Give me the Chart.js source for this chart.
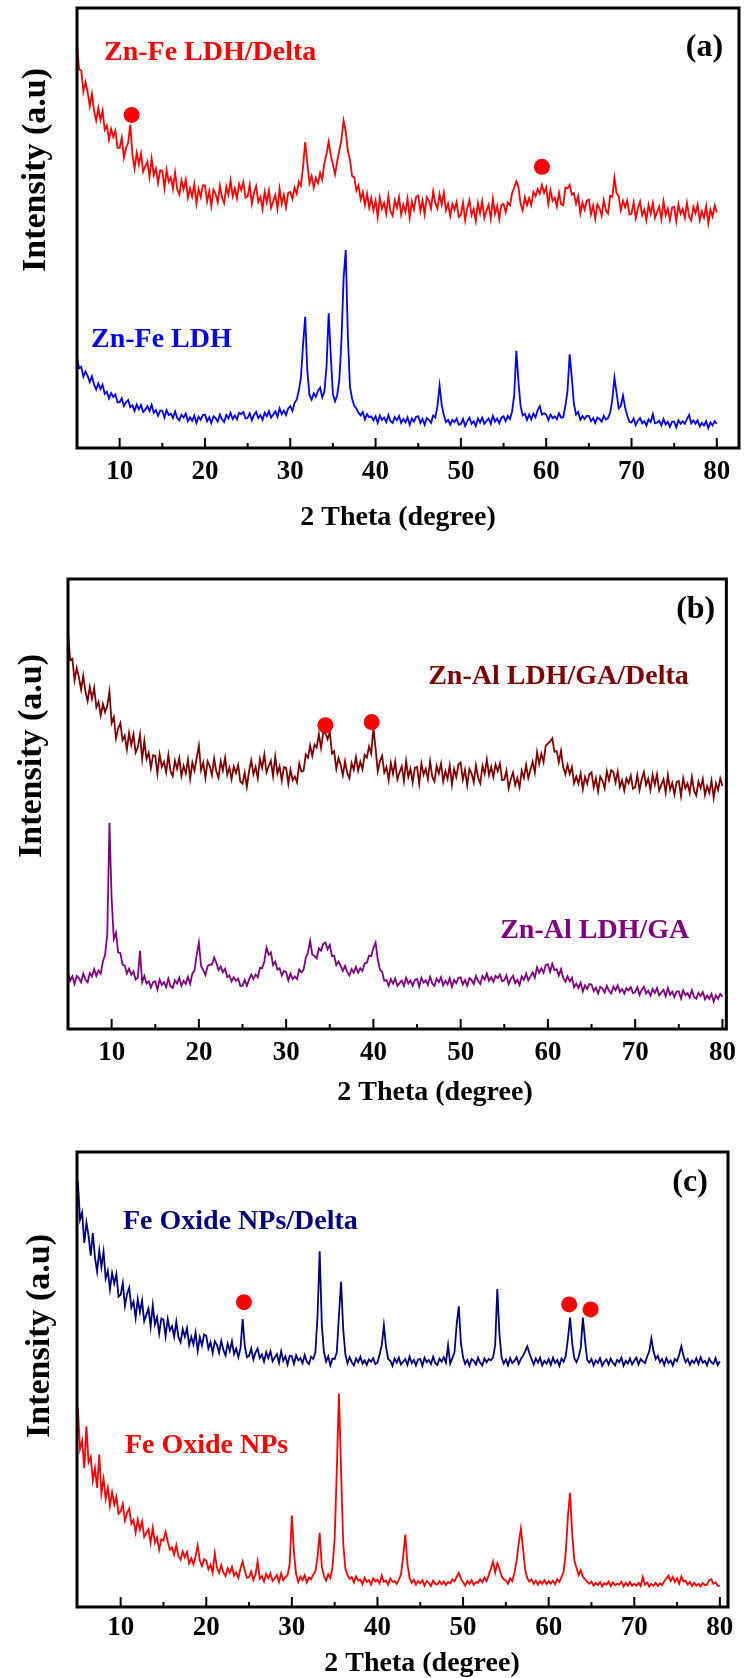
<!DOCTYPE html>
<html>
<head>
<meta charset="utf-8">
<title>XRD patterns</title>
<script src="https://cdn.jsdelivr.net/npm/chart.js"></script>
<style>
  html, body { margin: 0; padding: 0; background: #fff; overflow: hidden; }
  canvas { position: absolute; left: 0; }
</style>
</head>
<body>
<canvas id="panelA" width="747" height="532" style="top:0px"></canvas>
<canvas id="panelB" width="747" height="575" style="top:532px"></canvas>
<canvas id="panelC" width="747" height="571" style="top:1107px"></canvas>
<script>
// 2 theta grid shared by every pattern: 5 to 80 degrees, 0.25 degree step
const twoTheta = Array.from({ length: 301 }, (_, i) => 5 + i * 0.25);
const tickDegrees = [10, 20, 30, 40, 50, 60, 70, 80];

// (a) Zn-Fe LDH
const znFeDelta = [
  922, 860, 858, 810, 832, 809, 777, 805, 767, 744, 773, 745, 767, 723, 733, 701, 725, 707, 721, 682,
  682, 705, 660, 682, 694, 735, 666, 635, 671, 644, 669, 628, 640, 651, 616, 658, 620, 635, 602, 631,
  630, 590, 632, 605, 615, 589, 626, 588, 576, 608, 588, 610, 569, 590, 571, 600, 555, 589, 570, 597,
  597, 560, 583, 550, 587, 577, 558, 596, 569, 556, 594, 575, 608, 572, 590, 567, 600, 586, 604, 569,
  572, 598, 555, 580, 595, 559, 571, 543, 582, 558, 585, 546, 561, 575, 544, 589, 555, 575, 547, 580,
  582, 566, 592, 578, 605, 596, 640, 695, 648, 602, 618, 592, 614, 602, 625, 610, 648, 668, 696, 665,
  645, 622, 652, 676, 700, 744, 720, 675, 655, 618, 615, 585, 597, 565, 582, 552, 578, 546, 568, 540,
  562, 525, 569, 544, 557, 533, 573, 538, 528, 563, 546, 570, 530, 553, 536, 567, 524, 560, 542, 571,
  574, 538, 563, 531, 570, 562, 544, 583, 557, 544, 577, 553, 580, 540, 555, 527, 555, 541, 559, 525,
  530, 558, 518, 545, 563, 529, 543, 516, 556, 533, 561, 523, 539, 553, 521, 566, 532, 550, 520, 552,
  555, 536, 558, 552, 579, 592, 606, 593, 555, 540, 570, 552, 568, 552, 582, 572, 588, 578, 598, 580,
  592, 555, 586, 562, 569, 549, 580, 554, 552, 592, 590, 598, 576, 579, 555, 572, 533, 558, 542, 562,
  565, 531, 551, 521, 554, 545, 528, 563, 540, 533, 573, 571, 614, 579, 572, 540, 562, 547, 562, 531,
  533, 558, 522, 545, 560, 529, 542, 518, 553, 532, 557, 523, 537, 549, 520, 560, 529, 544, 518, 546,
  548, 515, 554, 532, 543, 523, 557, 526, 517, 548, 533, 553, 518, 538, 523, 550, 511, 542, 526, 551,
  535
];
const znFe = [
  206, 181, 184, 162, 174, 164, 150, 163, 144, 133, 147, 134, 144, 123, 128, 113, 125, 116, 122, 104,
  104, 113, 95, 104, 109, 93, 97, 84, 99, 88, 98, 82, 87, 95, 84, 98, 80, 86, 73, 85,
  85, 69, 86, 75, 78, 68, 83, 68, 63, 76, 69, 78, 61, 70, 62, 74, 57, 71, 64, 75,
  76, 61, 70, 57, 72, 68, 60, 76, 65, 59, 75, 67, 80, 66, 74, 65, 80, 77, 82, 67,
  68, 79, 63, 75, 82, 68, 75, 64, 80, 72, 84, 69, 76, 83, 71, 90, 77, 85, 75, 90,
  95, 84, 102, 110, 130, 160, 235, 298, 175, 120, 110, 124, 116, 130, 137, 115, 128, 185, 306, 210,
  122, 106, 120, 155, 245, 385, 450, 255, 138, 112, 96, 90, 80, 74, 82, 65, 77, 70, 72, 63,
  72, 57, 74, 64, 69, 59, 75, 61, 57, 70, 63, 73, 57, 66, 58, 70, 53, 67, 60, 71,
  72, 57, 66, 53, 68, 64, 57, 74, 69, 95, 142, 98, 75, 59, 64, 53, 64, 59, 67, 53,
  55, 66, 50, 61, 69, 55, 61, 50, 67, 58, 69, 55, 61, 67, 55, 73, 60, 67, 56, 69,
  72, 61, 73, 66, 83, 120, 221, 150, 95, 74, 78, 64, 76, 65, 78, 70, 86, 95, 76, 79,
  76, 63, 76, 68, 72, 65, 79, 69, 70, 96, 130, 213, 160, 100, 76, 82, 64, 73, 66, 73,
  73, 61, 68, 57, 69, 66, 60, 73, 65, 68, 80, 110, 160, 125, 90, 96, 119, 92, 74, 59,
  58, 67, 52, 62, 68, 56, 61, 51, 65, 59, 77, 56, 58, 62, 51, 66, 53, 60, 48, 60,
  60, 47, 63, 55, 61, 55, 66, 75, 56, 63, 55, 63, 49, 57, 51, 61, 45, 58, 51, 61,
  55
];

// (b) Zn-Al LDH/GA
const znAlDelta = [
  882, 820, 823, 775, 802, 782, 754, 785, 750, 729, 760, 734, 758, 715, 727, 697, 722, 704, 718, 750,
  680, 693, 646, 668, 680, 642, 652, 621, 658, 631, 655, 614, 626, 655, 600, 640, 600, 614, 580, 608,
  607, 567, 610, 583, 594, 570, 609, 573, 562, 596, 578, 602, 562, 585, 568, 599, 556, 592, 574, 603,
  630, 575, 592, 558, 595, 584, 564, 601, 572, 558, 595, 574, 603, 565, 581, 555, 583, 569, 587, 550,
  545, 570, 538, 573, 597, 566, 582, 557, 600, 580, 610, 570, 584, 596, 562, 605, 568, 584, 552, 582,
  580, 545, 576, 553, 561, 548, 590, 572, 574, 610, 603, 630, 607, 632, 625, 655, 625, 658, 658, 644,
  660, 612, 617, 578, 602, 587, 564, 595, 569, 557, 591, 576, 604, 574, 594, 577, 609, 603, 628, 612,
  669, 623, 573, 595, 607, 570, 582, 553, 591, 567, 594, 555, 570, 584, 551, 596, 560, 578, 548, 580,
  582, 545, 590, 565, 578, 555, 595, 560, 550, 585, 568, 590, 550, 573, 556, 586, 543, 578, 560, 588,
  592, 554, 576, 542, 578, 568, 548, 586, 559, 546, 585, 567, 599, 564, 583, 560, 588, 573, 590, 553,
  554, 574, 535, 555, 570, 542, 558, 537, 574, 558, 587, 558, 576, 594, 570, 615, 589, 612, 593, 629,
  634, 639, 646, 616, 618, 593, 618, 582, 566, 587, 567, 582, 546, 561, 545, 568, 533, 560, 545, 566,
  570, 537, 557, 528, 561, 552, 535, 573, 553, 575, 571, 548, 572, 538, 553, 530, 557, 546, 563, 534,
  538, 564, 531, 555, 571, 542, 556, 531, 565, 543, 566, 530, 543, 555, 525, 564, 532, 547, 521, 549,
  551, 518, 557, 535, 546, 525, 560, 529, 519, 550, 535, 556, 520, 540, 525, 552, 514, 546, 531, 557,
  540
];
const znAl = [
  126, 107, 117, 100, 118, 113, 104, 123, 110, 104, 124, 117, 133, 118, 130, 123, 150, 165, 210, 458,
  290, 200, 214, 170, 169, 143, 141, 123, 134, 121, 128, 110, 114, 174, 104, 118, 101, 106, 92, 104,
  106, 88, 110, 98, 104, 93, 112, 95, 91, 108, 101, 114, 96, 107, 100, 116, 100, 123, 130, 165,
  192, 140, 131, 120, 140, 143, 143, 159, 147, 131, 139, 126, 134, 115, 119, 106, 115, 107, 112, 96,
  96, 109, 96, 110, 121, 111, 121, 115, 136, 135, 150, 181, 165, 170, 142, 150, 132, 135, 119, 129,
  127, 108, 123, 111, 117, 111, 132, 126, 132, 158, 170, 196, 165, 162, 157, 179, 174, 189, 192, 177,
  187, 162, 163, 142, 150, 141, 129, 140, 127, 119, 133, 125, 138, 125, 135, 129, 146, 147, 163, 162,
  180, 192, 155, 132, 127, 107, 109, 96, 111, 101, 112, 96, 102, 108, 96, 114, 101, 108, 96, 109,
  111, 94, 114, 103, 108, 98, 116, 101, 96, 112, 104, 115, 97, 107, 99, 113, 94, 109, 102, 114,
  115, 99, 109, 96, 113, 109, 100, 118, 107, 100, 118, 110, 123, 107, 115, 105, 118, 113, 121, 106,
  108, 119, 100, 111, 118, 102, 109, 98, 117, 109, 123, 108, 117, 126, 114, 137, 125, 135, 125, 142,
  144, 127, 145, 131, 133, 119, 133, 114, 105, 117, 106, 114, 93, 101, 91, 103, 83, 97, 89, 100,
  99, 84, 92, 79, 94, 90, 81, 96, 85, 79, 94, 86, 97, 82, 89, 79, 91, 86, 93, 80,
  82, 93, 76, 87, 94, 79, 85, 74, 89, 80, 91, 75, 81, 87, 73, 91, 76, 83, 71, 83,
  84, 68, 86, 75, 80, 70, 86, 71, 67, 80, 73, 82, 66, 74, 67, 78, 61, 75, 67, 78,
  72
];

// (c) Fe oxide nanoparticles
const feOxDelta = [
  936, 851, 867, 800, 845, 816, 772, 822, 768, 737, 784, 747, 781, 722, 739, 698, 734, 711, 732, 682,
  686, 712, 662, 688, 702, 658, 671, 636, 677, 648, 674, 628, 642, 656, 616, 663, 621, 637, 601, 634,
  631, 595, 633, 608, 617, 594, 627, 593, 582, 611, 594, 613, 576, 594, 577, 603, 563, 593, 575, 599,
  596, 568, 582, 558, 584, 576, 559, 585, 565, 553, 579, 563, 584, 556, 568, 549, 569, 633, 574, 549,
  552, 568, 544, 559, 568, 547, 555, 539, 560, 547, 562, 540, 548, 556, 537, 562, 541, 551, 533, 552,
  551, 534, 553, 542, 547, 536, 554, 539, 534, 550, 545, 560, 640, 782, 620, 560, 539, 551, 531, 546,
  545, 560, 640, 715, 610, 555, 536, 549, 538, 531, 546, 538, 550, 535, 542, 532, 544, 539, 547, 534,
  537, 555, 575, 619, 572, 545, 541, 530, 546, 537, 548, 533, 539, 545, 532, 550, 536, 543, 531, 544,
  545, 530, 548, 538, 543, 534, 550, 536, 532, 546, 539, 549, 537, 575, 535, 547, 560, 620, 661, 580,
  549, 534, 543, 530, 545, 541, 533, 548, 537, 531, 546, 538, 545, 542, 548, 575, 699, 600, 548, 535,
  544, 531, 547, 536, 541, 549, 534, 545, 552, 562, 573, 558, 545, 533, 546, 537, 548, 531, 541, 535,
  545, 532, 548, 536, 543, 530, 546, 539, 552, 590, 636, 580, 546, 538, 550, 570, 636, 585, 543, 537,
  545, 531, 542, 536, 547, 530, 539, 544, 533, 546, 537, 531, 543, 538, 548, 530, 541, 535, 546, 533,
  541, 548, 533, 545, 540, 536, 550, 562, 590, 562, 545, 552, 538, 545, 532, 547, 536, 542, 531, 545,
  540, 555, 573, 552, 538, 545, 532, 542, 536, 547, 534, 549, 537, 541, 531, 546, 538, 534, 547, 532,
  540
];
const feOx = [
  439, 347, 365, 305, 397, 318, 330, 278, 305, 262, 335, 250, 282, 238, 262, 222, 252, 225, 242, 205,
  210, 227, 190, 207, 216, 183, 191, 164, 192, 170, 188, 154, 163, 171, 141, 174, 142, 153, 126, 149,
  146, 165, 144, 126, 131, 115, 136, 112, 104, 122, 109, 121, 96, 107, 94, 111, 135, 102, 90, 105,
  102, 83, 93, 75, 118, 86, 75, 92, 76, 68, 85, 75, 88, 69, 76, 64, 85, 100, 80, 64,
  66, 78, 59, 71, 100, 62, 68, 56, 73, 63, 74, 57, 63, 70, 55, 74, 59, 66, 70, 95,
  201, 118, 72, 55, 67, 59, 70, 54, 65, 61, 71, 78, 110, 163, 88, 68, 58, 72, 64, 88,
  150, 300, 469, 300, 140, 85, 70, 62, 66, 54, 67, 58, 60, 50, 64, 55, 59, 49, 63, 56,
  60, 52, 69, 55, 58, 49, 63, 55, 57, 51, 60, 72, 110, 159, 95, 64, 53, 60, 49, 57,
  52, 59, 47, 57, 53, 46, 58, 51, 49, 57, 50, 56, 48, 55, 52, 61, 56, 66, 75, 62,
  55, 47, 57, 51, 59, 49, 55, 53, 61, 54, 65, 57, 70, 84, 100, 76, 96, 84, 68, 61,
  58, 51, 63, 57, 75, 100, 140, 172, 130, 82, 63, 56, 61, 51, 58, 49, 57, 51, 59, 50,
  57, 51, 58, 50, 61, 55, 66, 78, 120, 200, 251, 160, 102, 86, 70, 81, 66, 61, 55, 51,
  56, 47, 53, 48, 55, 45, 52, 49, 56, 46, 54, 48, 51, 49, 56, 45, 53, 47, 55, 47,
  51, 47, 53, 46, 66, 49, 54, 45, 51, 47, 53, 46, 52, 48, 56, 63, 69, 57, 66, 55,
  63, 51, 67, 56, 58, 49, 55, 46, 53, 47, 51, 45, 53, 48, 49, 59, 61, 51, 54, 47,
  46
];

// Delta reflections marked with a dot: [2 theta, intensity]
const dotsA = [[11.4, 757], [59.5, 639]];
const dotsB = [[34.5, 675], [39.8, 682]];
const dotsC = [[24.4, 670], [62.4, 665], [64.9, 654]];

const SERIF = "'Liberation Serif', 'Times New Roman', serif";

// box frame, inward ticks, titles and in-plot labels
const xrdFrame = {
  id: 'xrdFrame',
  afterDraw(chart, args, opts) {
    const { ctx, chartArea: a, scales: { x, y } } = chart;
    ctx.save();

    ctx.strokeStyle = '#000';
    ctx.lineWidth = 2;
    for (let d = 10; d <= 80; d += 5) {
      const px = x.getPixelForValue(d);
      const len = d % 10 === 0 ? 10 : 5;
      ctx.beginPath();
      ctx.moveTo(px, a.bottom);
      ctx.lineTo(px, a.bottom - len);
      ctx.stroke();
    }
    ctx.lineWidth = 3;
    ctx.strokeRect(a.left, a.top, a.right - a.left, a.bottom - a.top);

    ctx.fillStyle = '#000';
    ctx.textAlign = 'center';
    ctx.textBaseline = 'middle';
    ctx.font = 'bold 28px ' + SERIF;
    ctx.fillText('2 Theta (degree)', opts.xTitle[0], opts.xTitle[1]);

    ctx.save();
    ctx.translate(opts.yTitle[0], opts.yTitle[1]);
    ctx.rotate(-Math.PI / 2);
    ctx.font = 'bold 34px ' + SERIF;
    ctx.fillText('Intensity (a.u)', 0, 0);
    ctx.restore();

    ctx.textAlign = 'right';
    ctx.font = 'bold 32px ' + SERIF;
    ctx.fillText(opts.tag.text, x.getPixelForValue(opts.tag.x), y.getPixelForValue(opts.tag.y));

    ctx.textAlign = 'left';
    ctx.font = 'bold 28px ' + SERIF;
    opts.labels.forEach(l => {
      ctx.fillStyle = l.color;
      ctx.fillText(l.text, x.getPixelForValue(l.x), y.getPixelForValue(l.y));
    });
    ctx.restore();
  }
};

function pattern(values, color) {
  return {
    data: twoTheta.map((t, i) => ({ x: t, y: values[i] })),
    borderColor: color,
    borderWidth: 1.8,
    pointRadius: 0,
    tension: 0,
    order: 1
  };
}

function dots(list) {
  return {
    type: 'scatter',
    data: list.map(([t, v]) => ({ x: t, y: v })),
    pointRadius: 8,
    pointBackgroundColor: '#ff0000',
    pointBorderWidth: 0,
    showLine: false,
    order: 0
  };
}

function makePanel(id, p) {
  return new Chart(document.getElementById(id), {
    type: 'line',
    data: { datasets: p.datasets },
    options: {
      responsive: false,
      animation: false,
      events: [],
      layout: { padding: p.padding },
      plugins: {
        legend: { display: false },
        tooltip: { enabled: false },
        xrdFrame: p.frame
      },
      scales: {
        x: {
          type: 'linear',
          min: p.xMin,
          max: p.xMax,
          grid: { display: false, drawTicks: false },
          border: { display: false },
          afterBuildTicks: s => { s.ticks = tickDegrees.map(v => ({ value: v })); },
          ticks: {
            autoSkip: false,
            maxRotation: 0,
            padding: p.tickPad,
            color: '#000',
            font: { family: SERIF, size: 27, weight: 'bold', lineHeight: 1 }
          }
        },
        y: { display: false, min: 0, max: 1000 }
      }
    },
    plugins: [xrdFrame]
  });
}

makePanel('panelA', {
  datasets: [pattern(znFeDelta, '#ff0000'), pattern(znFe, '#0000ff'), dots(dotsA)],
  padding: { left: 77, right: 7, top: 7, bottom: 35 },
  tickPad: 11, xMin: 5, xMax: 82.6,
  frame: {
    xTitle: [398, 518], yTitle: [36, 170],
    tag: { text: '(a)', x: 80.73, y: 909 },
    labels: [
      { text: 'Zn-Fe LDH/Delta', x: 8.16, y: 898, color: '#ff0000' },
      { text: 'Zn-Fe LDH', x: 6.64, y: 245, color: '#0000ff' }
    ]
  }
});

makePanel('panelB', {
  datasets: [pattern(znAlDelta, '#800000'), pattern(znAl, '#800080'), dots(dotsB)],
  padding: { left: 68, right: 12, top: 47, bottom: 29 },
  tickPad: 11, xMin: 5, xMax: 80.45,
  frame: {
    xTitle: [435, 561], yTitle: [32, 224],
    tag: { text: '(b)', x: 79.18, y: 931 },
    labels: [
      { text: 'Zn-Al LDH/GA/Delta', x: 46.28, y: 783, color: '#800000' },
      { text: 'Zn-Al LDH/GA', x: 54.53, y: 218, color: '#800080' }
    ]
  }
});

makePanel('panelC', {
  datasets: [pattern(feOxDelta, '#000080'), pattern(feOx, '#ff0000'), dots(dotsC)],
  padding: { left: 77, right: 19, top: 45, bottom: 28 },
  tickPad: 8, xMin: 4.9, xMax: 80.95,
  frame: {
    xTitle: [422, 557], yTitle: [40, 229],
    tag: { text: '(c)', x: 78.6, y: 932 },
    labels: [
      { text: 'Fe Oxide NPs/Delta', x: 10.27, y: 846, color: '#000080' },
      { text: 'Fe Oxide NPs', x: 10.5, y: 354, color: '#ff0000' }
    ]
  }
});
</script>
</body>
</html>
